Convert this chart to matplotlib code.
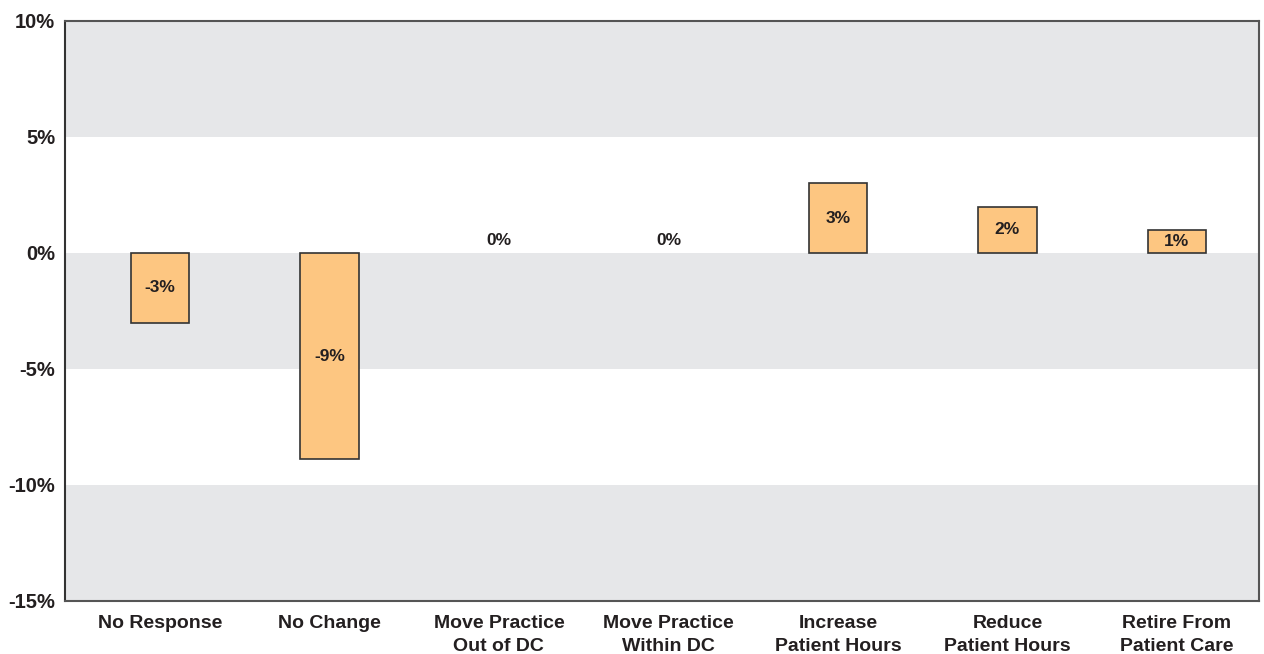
import matplotlib.pyplot as plt
import numpy as np

plt.rcParams['font.family'] = ['Liberation Sans', 'DejaVu Sans']

categories = ['No Response', 'No Change', 'Move Practice\nOut of DC', 'Move Practice\nWithin DC',
              'Increase\nPatient Hours', 'Reduce\nPatient Hours', 'Retire From\nPatient Care']
values = [-3, -8.9, 0, 0, 3, 2, 1]
labels = ['-3%', '-9%', '0%', '0%', '3%', '2%', '1%']
yticks = [-15, -10, -5, 0, 5, 10]

text_color = '#231F20'
band_color = '#E6E7E9'
bar_color = '#FDC681'

fig = plt.figure(figsize=(12.64, 6.54), dpi=100)
ax = fig.add_axes([65/1264, 1-601/654, (1259-65)/1264, (601-21)/654])

# alternating gray bands
for lo, hi in [(5, 10), (-5, 0), (-15, -10)]:
    ax.axhspan(lo, hi, color=band_color, zorder=0, lw=0)

x = np.arange(len(categories))
vals = np.array(values, dtype=float)
nz = vals != 0
ax.bar(x[nz], vals[nz], width=0.346, color=bar_color, edgecolor='#333333', linewidth=1.2, zorder=2)

for xi, v, lab in zip(x, values, labels):
    y = v / 2 if v != 0 else 0.55
    ax.text(xi, y, lab, ha='center', va='center', fontsize=12.5, fontweight='bold',
            color=text_color, zorder=3)

ax.set_xlim(-0.56, 6.484)
ax.set_ylim(-15, 10)
ax.set_xticks(x)
ax.set_xticklabels(categories, fontsize=14, fontweight='bold', color=text_color, linespacing=1.45)
ax.set_yticks(yticks)
ax.set_yticklabels(['%d%%' % t for t in yticks], fontsize=14.5, fontweight='bold', color=text_color)
ax.tick_params(axis='both', length=0)
ax.tick_params(axis='x', pad=10)
ax.tick_params(axis='y', pad=7)

for s in ax.spines.values():
    s.set_color('#555555')
    s.set_linewidth(1.5)
ax.spines['left'].set_color('#333333')

fig.savefig('out.png', dpi=100)
